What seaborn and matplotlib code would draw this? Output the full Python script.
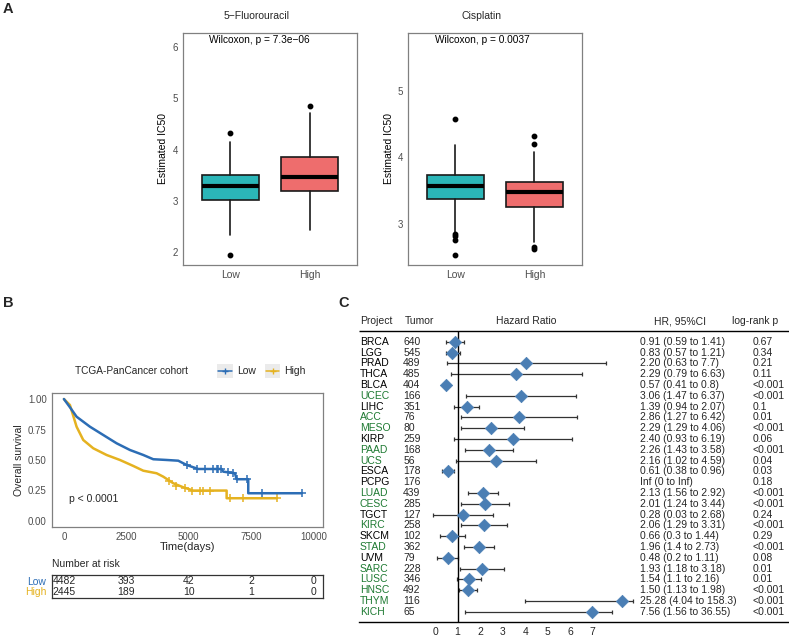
import numpy as np
import pandas as pd
import matplotlib
matplotlib.use("Agg")
import matplotlib.pyplot as plt
from matplotlib.patches import Rectangle
from matplotlib.lines import Line2D
import seaborn as sns

# ---------------- data ----------------
# Panel A: boxplot summaries
groups = ["Low", "High"]
box_colors = ["#2BB6B8", "#EE6D6D"]

fu_q1 = [3.01, 3.20]
fu_med = [3.29, 3.46]
fu_q3 = [3.51, 3.86]
fu_whislo = [2.34, 2.44]
fu_whishi = [4.15, 4.71]
fu_fliers = [[4.33, 1.94], [4.85]]

cis_q1 = [3.375, 3.255]
cis_med = [3.57, 3.48]
cis_q3 = [3.735, 3.625]
cis_whislo = [2.86, 2.735]
cis_whishi = [4.185, 4.075]
cis_fliers = [[4.575, 2.845, 2.825, 2.76, 2.53], [4.325, 4.20, 2.66, 2.62]]

# Panel B: Kaplan-Meier curves
low_time = [0, 250, 508, 1043, 1577, 2112, 2647, 3182, 3583, 4118, 4586, 4920,
            5387, 6324, 6390, 6858, 6925, 7392, 7392, 9533]
low_surv = [1.0, 0.93, 0.855, 0.773, 0.705, 0.637, 0.582, 0.541, 0.506, 0.50,
            0.494, 0.459, 0.426, 0.426, 0.404, 0.391, 0.342, 0.342, 0.227, 0.227]
low_cens_time = [4921, 5322, 5655, 5990, 6124, 6190, 6297, 6565, 6792, 6952, 7326, 7928, 9533]
low_cens_surv = [0.455, 0.43, 0.426, 0.426, 0.426, 0.426, 0.426, 0.40, 0.391,
                 0.342, 0.342, 0.227, 0.227]

high_time = [0, 241, 508, 775, 1176, 1711, 2246, 2781, 3182, 3717, 3984, 4385,
             4786, 5187, 6525, 6525, 8530]
high_surv = [1.0, 0.951, 0.773, 0.664, 0.596, 0.541, 0.50, 0.451, 0.412, 0.391,
             0.363, 0.309, 0.276, 0.249, 0.249, 0.186, 0.186]
high_cens_time = [4200, 4500, 4853, 5120, 5455, 5589, 5856, 6658, 7193, 8530]
high_cens_surv = [0.33, 0.29, 0.27, 0.249, 0.249, 0.249, 0.249, 0.186, 0.186, 0.186]

risk_times = [0, 2500, 5000, 7500, 10000]
risk_low = [4482, 393, 42, 2, 0]
risk_high = [2445, 189, 10, 1, 0]

# Panel C: forest plot
projects = ["BRCA", "LGG", "PRAD", "THCA", "BLCA", "UCEC", "LIHC", "ACC", "MESO",
            "KIRP", "PAAD", "UCS", "ESCA", "PCPG", "LUAD", "CESC", "TGCT", "KIRC",
            "SKCM", "STAD", "UVM", "SARC", "LUSC", "HNSC", "THYM", "KICH"]
tumor_n = [640, 545, 489, 485, 404, 166, 351, 76, 80, 259, 168, 56, 178, 176,
           439, 285, 127, 258, 102, 362, 79, 228, 346, 492, 116, 65]
hr_text = ["0.91 (0.59 to 1.41)", "0.83 (0.57 to 1.21)", "2.20 (0.63 to 7.7)",
           "2.29 (0.79 to 6.63)", "0.57 (0.41 to 0.8)", "3.06 (1.47 to 6.37)",
           "1.39 (0.94 to 2.07)", "2.86 (1.27 to 6.42)", "2.29 (1.29 to 4.06)",
           "2.40 (0.93 to 6.19)", "2.26 (1.43 to 3.58)", "2.16 (1.02 to 4.59)",
           "0.61 (0.38 to 0.96)", "Inf (0 to Inf)", "2.13 (1.56 to 2.92)",
           "2.01 (1.24 to 3.44)", "0.28 (0.03 to 2.68)", "2.06 (1.29 to 3.31)",
           "0.66 (0.3 to 1.44)", "1.96 (1.4 to 2.73)", "0.48 (0.2 to 1.11)",
           "1.93 (1.18 to 3.18)", "1.54 (1.1 to 2.16)", "1.50 (1.13 to 1.98)",
           "25.28 (4.04 to 158.3)", "7.56 (1.56 to 36.55)"]
p_text = ["0.67", "0.34", "0.21", "0.11", "<0.001", "<0.001", "0.1", "0.01", "<0.001",
          "0.06", "<0.001", "0.04", "0.03", "0.18", "<0.001", "<0.001", "0.24", "<0.001",
          "0.29", "<0.001", "0.08", "0.01", "0.01", "<0.001", "<0.001", "<0.001"]
green_rows = ["UCEC", "ACC", "MESO", "PAAD", "UCS", "LUAD", "CESC", "KIRC", "STAD",
              "SARC", "LUSC", "HNSC", "THYM", "KICH"]
# marker / whisker positions as drawn on the forest axis
hr_pos = [0.90, 0.77, 4.04, 3.60, 0.47, 3.80, 1.41, 3.71, 2.47, 3.45, 2.38, 2.71, 0.56,
          np.nan, 2.12, 2.23, 1.24, 2.19, 0.77, 1.95, 0.56, 2.09, 1.52, 1.45, 8.29, 6.96]
ci_lo_pos = [0.49, 0.49, 0.53, 0.70, 0.34, 1.36, 0.84, 1.17, 1.17, 0.83, 1.33, 0.92, 0.30,
             np.nan, 1.48, 1.15, -0.07, 1.17, 0.22, 1.30, 0.10, 1.12, 0.99, 1.05, 4.01, 1.35]
ci_hi_pos = [1.30, 1.12, 7.59, 6.51, 0.64, 6.26, 1.97, 6.32, 3.97, 6.08, 3.48, 4.48, 0.86,
             np.nan, 2.81, 3.30, 2.59, 3.21, 1.33, 2.60, 1.04, 3.08, 2.04, 1.86, 8.79, 7.87]

# ---------------- style ----------------
sns.set_theme(style="white")
plt.rcParams['font.family'] = ['Liberation Sans', 'DejaVu Sans']

W, H = 789, 637
fig = plt.figure(figsize=(W / 100, H / 100), dpi=100)


def rect(l, t, r, b):
    return [l / W, 1 - b / H, (r - l) / W, (b - t) / H]


def ftext(x, y, s, **kw):
    fig.text(x / W, 1 - y / H, s, **kw)


frame_col = "#808080"
tick_col = "#4D4D4D"

# ---------------- panel A ----------------
def box_panel(ax, q1, med, q3, wlo, whi, fl, ylim, yticks, title_x, title, pval, px_lab):
    stats = []
    for i in range(2):
        stats.append(dict(med=med[i], q1=q1[i], q3=q3[i], whislo=wlo[i], whishi=whi[i],
                          fliers=fl[i], label=groups[i]))
    bp = ax.bxp(stats, positions=[0, 1], widths=0.72, patch_artist=True, showcaps=False,
                boxprops=dict(linewidth=1.2, edgecolor="#1a1a1a"),
                medianprops=dict(color="black", linewidth=3),
                whiskerprops=dict(color="#1a1a1a", linewidth=1.2),
                flierprops=dict(marker="o", markerfacecolor="black", markeredgecolor="black",
                                markersize=3.2))
    for patch, c in zip(bp["boxes"], box_colors):
        patch.set_facecolor(c)
    ax.set_xlim(-0.6, 1.6)
    ax.set_ylim(*ylim)
    ax.set_yticks(yticks)
    ax.set_xticks([0, 1])
    ax.set_xticklabels(groups)
    ax.tick_params(axis="both", labelsize=7, colors=tick_col, length=2, width=0.6,
                   direction="out", pad=1.5)
    ax.tick_params(axis="x", labelsize=7.5)
    for sp in ax.spines.values():
        sp.set_color(frame_col)
        sp.set_linewidth(0.9)
    ax.set_ylabel("Estimated IC50", fontsize=7.5, color="black", labelpad=3)
    ax.set_xlabel("")
    ax.text(px_lab, 0.97, pval, transform=ax.transAxes, fontsize=7.3, va="center",
            ha="left", color="black")
    ftext(title_x, 16, title, ha="center", va="center", fontsize=7.5)


axA1 = fig.add_axes(rect(183, 33, 357, 265))
box_panel(axA1, fu_q1, fu_med, fu_q3, fu_whislo, fu_whishi, fu_fliers, (1.75, 6.27),
          [2, 3, 4, 5, 6], 256.7, "5\u2212Fluorouracil", "Wilcoxon, p = 7.3e\u221206", 0.15)
axA2 = fig.add_axes(rect(408, 33, 581.7, 265))
box_panel(axA2, cis_q1, cis_med, cis_q3, cis_whislo, cis_whishi, cis_fliers, (2.385, 5.865),
          [3, 4, 5], 481.7, "Cisplatin", "Wilcoxon, p = 0.0037", 0.155)

# ---------------- panel B ----------------
blue = "#2C6DB5"
yellow = "#E5B220"
axB = fig.add_axes(rect(51.7, 392.7, 323, 527))
sns.lineplot(x=high_time, y=high_surv, ax=axB, color=yellow, lw=1.8, estimator=None, sort=False)
sns.lineplot(x=low_time, y=low_surv, ax=axB, color=blue, lw=1.8, estimator=None, sort=False)
sns.scatterplot(x=high_cens_time, y=high_cens_surv, ax=axB, color=yellow, marker="+",
                s=28, linewidth=1.1)
sns.scatterplot(x=low_cens_time, y=low_cens_surv, ax=axB, color=blue, marker="+",
                s=28, linewidth=1.1)
axB.set_xlim(-490, 10390)
axB.set_ylim(-0.05, 1.052)
axB.set_xticks([0, 2500, 5000, 7500, 10000])
axB.set_yticks([0, 0.25, 0.5, 0.75, 1.0])
axB.set_yticklabels(["0.00", "0.25", "0.50", "0.75", "1.00"])
axB.tick_params(axis="both", labelsize=7, colors=tick_col, length=2, width=0.6, pad=1.5)
for sp in axB.spines.values():
    sp.set_color(frame_col)
    sp.set_linewidth(0.9)
axB.set_xlabel("Time(days)", fontsize=8, labelpad=0)
axB.set_ylabel("Overall survival", fontsize=7.5, labelpad=3)
axB.text(200, 0.18, "p < 0.0001", fontsize=7.5, ha="left", va="center")

# legend above KM plot
ftext(75, 371, "TCGA-PanCancer cohort", fontsize=7.3, ha="left", va="center")
for (l, r, txt, c) in [(216.7, 232.7, "Low", blue), (265, 280, "High", yellow)]:
    fig.add_artist(Rectangle((l / W, 1 - 378.3 / H), (r - l) / W, 14 / H,
                             transform=fig.transFigure, facecolor="#EBEBEB", edgecolor="none"))
    fig.add_artist(Line2D([(l + 1) / W, (r - 1) / W], [1 - 371 / H] * 2,
                          transform=fig.transFigure, color=c, lw=1.1))
    fig.add_artist(Line2D([(l + r) / 2 / W], [1 - 371 / H], transform=fig.transFigure,
                          color=c, marker="+", markersize=5, mew=1.0))
    ftext(r + 4.5, 371, txt, fontsize=7.5, ha="left", va="center")

# risk table
ftext(52, 564, "Number at risk", fontsize=7.5, ha="left", va="center")
axR = fig.add_axes(rect(52, 575, 323, 598))
axR.set_xlim(-490, 10390)
axR.set_ylim(0, 2)
for t, a, b in zip(risk_times, risk_low, risk_high):
    axR.text(t, 1.45, str(a), ha="center", va="center", fontsize=7.5)
    axR.text(t, 0.55, str(b), ha="center", va="center", fontsize=7.5)
axR.set_xticks([])
axR.set_yticks([])
for sp in axR.spines.values():
    sp.set_color("#333333")
    sp.set_linewidth(0.9)
ftext(46.5, 582, "Low", color=blue, fontsize=7.5, ha="right", va="center")
ftext(46.5, 592, "High", color=yellow, fontsize=7.5, ha="right", va="center")

# ---------------- panel C ----------------
axC = fig.add_axes(rect(359, 312, 789, 621.7))
x_left, x_right = -3.373, 15.71
axC.set_xlim(x_left, x_right)
axC.set_ylim(25.92, -2.75)
rows = np.arange(len(projects))
forest = pd.DataFrame({"row": rows, "pos": hr_pos, "lo": ci_lo_pos, "hi": ci_hi_pos})
fd = forest.dropna()
axC.errorbar(fd["pos"], fd["row"], xerr=[fd["pos"] - fd["lo"], fd["hi"] - fd["pos"]],
             fmt="none", ecolor="#333333", elinewidth=0.9, capsize=1.6, capthick=0.9)
sns.scatterplot(data=fd, x="pos", y="row", ax=axC, marker="D", s=40, color="#4A7EB4",
                edgecolor="#4A7EB4", linewidth=0.5, zorder=3)
axC.vlines(1, -0.99, 25.92, color="black", lw=1)
axC.hlines(-0.99, x_left, x_right, color="black", lw=1)

fs = 7.5
for i, name in enumerate(projects):
    col = "#1E7A32" if name in green_rows else "black"
    axC.text(-3.33, i, name, color=col, fontsize=fs, ha="left", va="center")
    axC.text(-1.41, i, str(tumor_n[i]), fontsize=fs, ha="left", va="center")
    axC.text(9.10, i, hr_text[i], fontsize=fs, ha="left", va="center")
    axC.text(14.09, i, p_text[i], fontsize=fs, ha="left", va="center")
hy = -1.91
axC.text(-3.33, hy, "Project", fontsize=fs, ha="left", va="center")
axC.text(-1.36, hy, "Tumor", fontsize=fs, ha="left", va="center")
axC.text(4.03, hy, "Hazard Ratio", fontsize=fs, ha="center", va="center")
axC.text(9.72, hy, "HR, 95%CI", fontsize=fs, ha="left", va="center")
axC.text(13.17, hy, "log-rank p", fontsize=fs, ha="left", va="center")

axC.set_xticks(range(8))
axC.set_yticks([])
axC.tick_params(axis="x", length=0, labelsize=7.5, pad=4)
axC.set_xlabel("")
axC.set_ylabel("")
for k in ["top", "left", "right"]:
    axC.spines[k].set_visible(False)
axC.spines["bottom"].set_color("black")
axC.spines["bottom"].set_linewidth(1)

# panel letters
ftext(3, 9, "A", fontsize=10.5, fontweight="bold", ha="left", va="center")
ftext(3, 303, "B", fontsize=10.5, fontweight="bold", ha="left", va="center")
ftext(338, 303, "C", fontsize=10.5, fontweight="bold", ha="left", va="center")

fig.savefig("out.png", dpi=100)
